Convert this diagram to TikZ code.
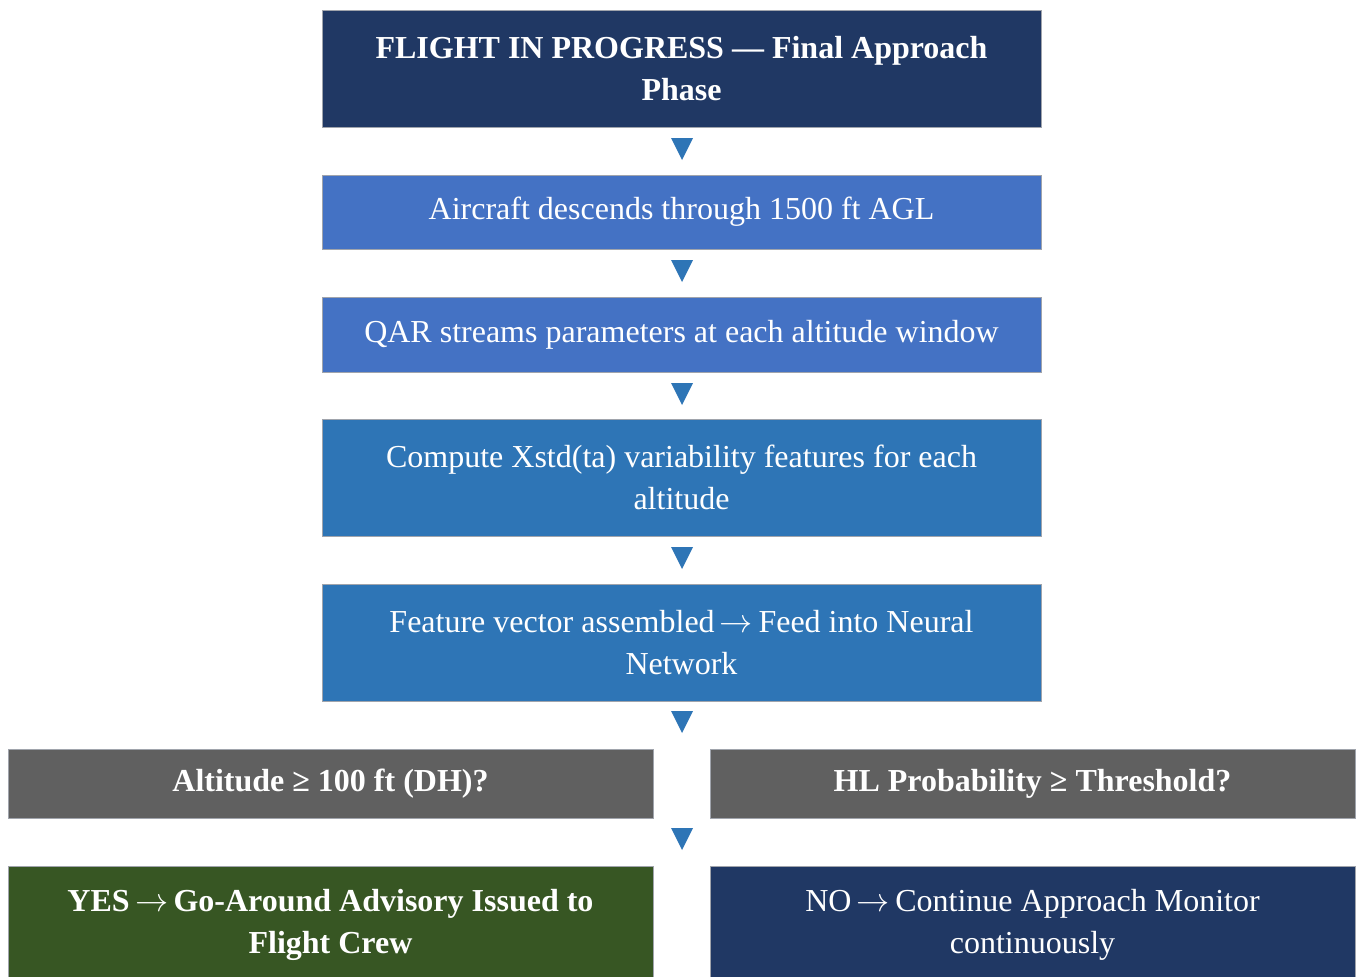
\documentclass[tikz,border=0pt]{standalone}
\usepackage{fontspec}
\setmainfont{Liberation Serif}
\begin{document}
\begin{tikzpicture}[x=0.75pt, y=-0.75pt]
    \def\boxWidth{539.25pt}
    \def\sideWidth{483.75pt}
    \def\arr{\,$\rightarrow$\,}

    \definecolor{borderColour}{HTML}{A0A4AC}
    \definecolor{fillNavy}{HTML}{203864}
    \definecolor{fillBlue}{HTML}{4472C4}
    \definecolor{fillSteel}{HTML}{2E75B6}
    \definecolor{fillGrey}{HTML}{606060}
    \definecolor{fillGreen}{HTML}{375623}
    \definecolor{arrowColour}{HTML}{2E75B6}

    \tikzset{
        box/.style={rectangle, draw=borderColour, line width=0.75pt, text=white,
            align=center, inner sep=0pt, font=\fontsize{24}{31.5}\selectfont},
        boldbox/.style={box, font=\fontsize{24}{31.5}\selectfont\bfseries}
    }

    \useasboundingbox (0,0) rectangle (1363,976);

    % Main column of steps
    \node[boldbox, fill=fillNavy, minimum width=\boxWidth, minimum height=87.75pt] (flight) at (681.5,68.5)
        {FLIGHT IN PROGRESS — Final Approach\\Phase};
    \node[box, fill=fillBlue, minimum width=\boxWidth, minimum height=55.5pt] (descend) at (681.5,212)
        {Aircraft descends through 1500 ft AGL};
    \node[box, fill=fillBlue, minimum width=\boxWidth, minimum height=56.25pt] (qar) at (681.5,334.5)
        {QAR streams parameters at each altitude window};
    \node[box, fill=fillSteel, minimum width=\boxWidth, minimum height=87.75pt] (compute) at (681.5,477.5)
        {Compute Xstd(ta) variability features for each\\altitude};
    \node[box, fill=fillSteel, minimum width=\boxWidth, minimum height=87.75pt] (feature) at (681.5,642.5)
        {Feature vector assembled\arr Feed into Neural\\Network};

    % Decision row
    \node[boldbox, fill=fillGrey, minimum width=\sideWidth, minimum height=51.75pt] (altitude) at (330.5,783.5)
        {Altitude ≥ 100 ft (DH)?};
    \node[boldbox, fill=fillGrey, minimum width=\sideWidth, minimum height=51.75pt] (prob) at (1032.5,783.5)
        {HL Probability ≥ Threshold?};

    % Outcome row (runs off the bottom edge)
    \node[boldbox, fill=fillGreen, minimum width=\sideWidth, minimum height=88.5pt] (yes) at (330.5,925)
        {YES\arr Go-Around Advisory Issued to\\Flight Crew};
    \node[box, fill=fillNavy, minimum width=\sideWidth, minimum height=88.5pt] (no) at (1032.5,925)
        {NO\arr Continue Approach Monitor\\continuously};

    % Down arrows between rows
    \foreach \ty in {138,260,383,547,711,828}
        \fill[arrowColour] (671,\ty) -- (693,\ty) -- (682,\ty+22) -- cycle;

\end{tikzpicture}
\end{document}
